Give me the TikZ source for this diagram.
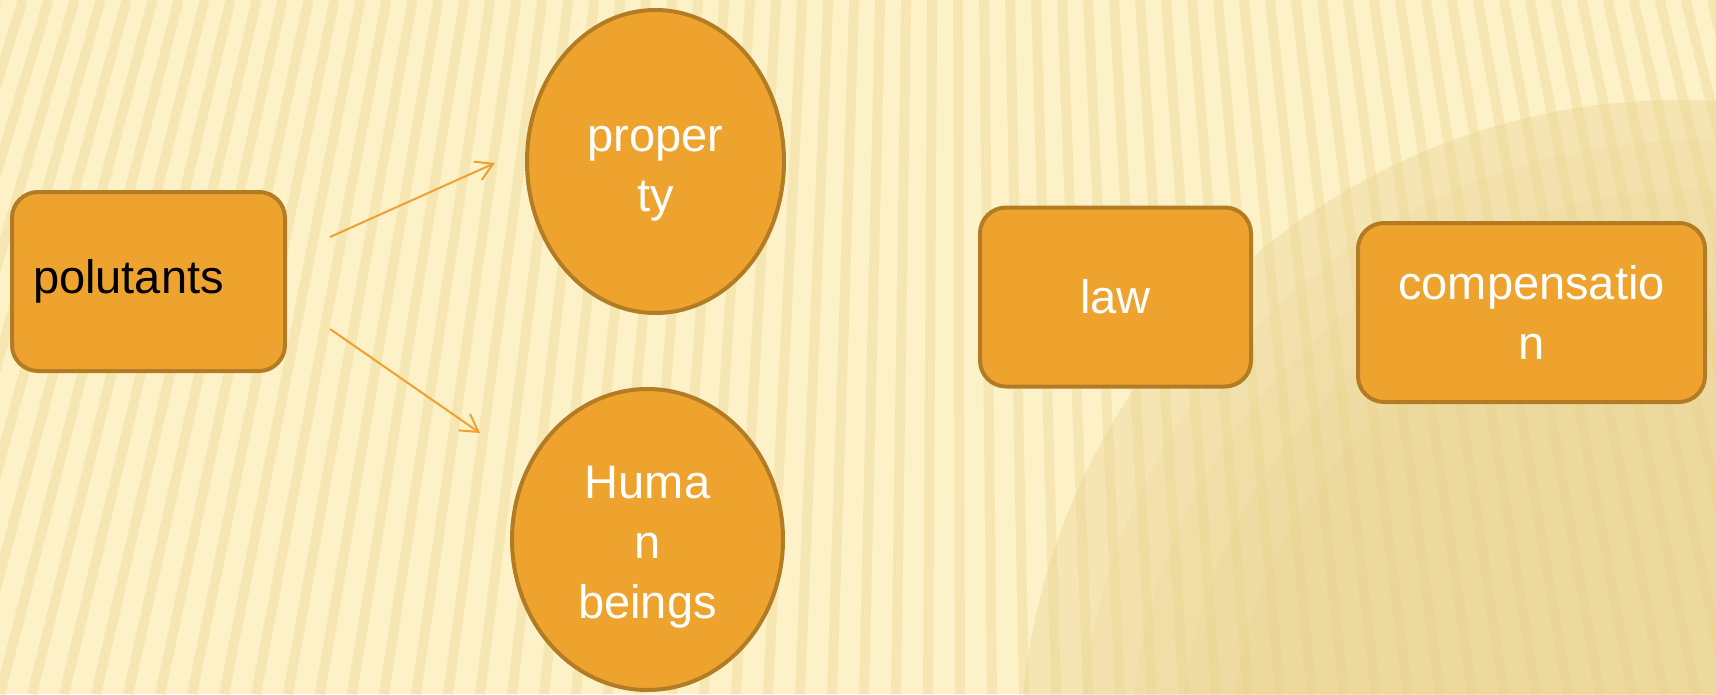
\documentclass[tikz,border=0pt]{standalone}
\usepackage{fontspec}
\setmainfont{Liberation Sans}
\usetikzlibrary{arrows.meta,shapes.geometric}
\definecolor{boxFill}{HTML}{EFA32F}
\definecolor{boxLine}{HTML}{B47B25}
\definecolor{arrowCol}{HTML}{F0A030}
\definecolor{paper}{HTML}{FDF1C7}
\definecolor{stripeCol}{HTML}{EBD38C}
\definecolor{shadeCol}{HTML}{E3CB82}
\tikzset{
  bigText/.style={font=\fontsize{47}{60}\selectfont},
  orangeBox/.style={draw=boxLine, fill=boxFill, line width=4pt, rounded corners=26pt,
    minimum width=273pt, minimum height=179pt, text=white, align=center, bigText},
  orangeOval/.style={ellipse, draw=boxLine, fill=boxFill, line width=4pt, inner sep=0pt},
  ovalText/.style={text=white, align=center, bigText},
  thinArrow/.style={draw=arrowCol, line width=2pt, -{Straight Barb[length=17pt,width=20pt]}}
}
\begin{document}
\begin{tikzpicture}[x=1pt,y=-1pt]
    % paper with stripes
    \fill[paper] (0,0) rectangle (1716,694);
    \begin{scope}
        \clip (0,0) rectangle (1716,694);
        \fill[shadeCol, opacity=0.3] (1680,760) circle (660pt);
        \foreach \r in {620,570,520,470}{
            \fill[shadeCol, opacity=0.12] (1700,760) circle (\r pt);
        }
        \foreach \i in {-8,...,60}{
            \draw[stripeCol, line width=10pt, opacity=0.35] (\i*32,694) -- ({950+(\i*32-950)*0.812},0);
        }
    \end{scope}
    \useasboundingbox (0,0) rectangle (1716,694);

\node[orangeBox, text=black, align=left, text width=231pt, inner xsep=21pt] (pol) at (148.5,281.5) {polutants};
\node[orangeOval, minimum width=257pt, minimum height=303pt,
      label={[ovalText, yshift=-12pt]center:{proper\\ty}}] (prop) at (655.5,161.5) {};
\node[orangeOval, minimum width=271pt, minimum height=301pt,
      label={[ovalText, yshift=-8pt]center:{Huma\\n\\beings}}] (hum) at (647.5,539.5) {};
\node[orangeBox, minimum width=271pt] (law) at (1115.5,297) {law};
\node[orangeBox, minimum width=347pt] (comp) at (1531.5,312.5) {compensatio\\n};

\coordinate (propIn) at (495,163);
\coordinate (humIn) at (480,433);
\draw[thinArrow] (330,237) coordinate (polUp) -- (propIn);
\draw[thinArrow] (330,329) coordinate (polDown) -- (humIn);

\end{tikzpicture}
\end{document}
